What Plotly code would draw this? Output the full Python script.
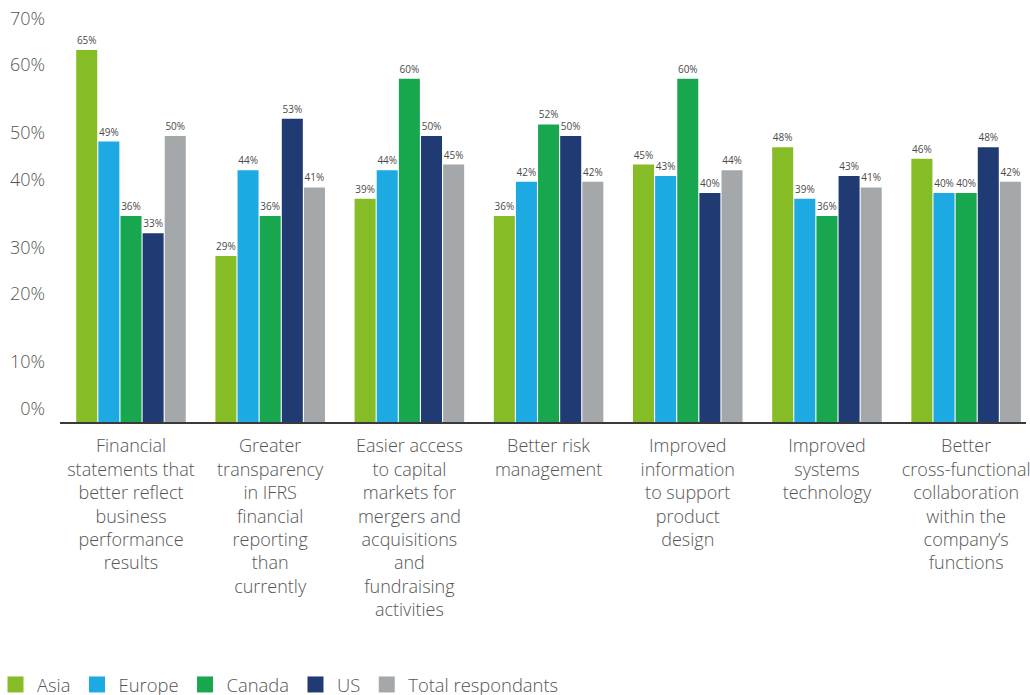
import plotly.graph_objects as go

categories = [
    "Financial<br>statements that<br>better reflect<br>business<br>performance<br>results",
    "Greater<br>transparency<br>in IFRS<br>financial<br>reporting<br>than<br>currently",
    "Easier access<br>to capital<br>markets for<br>mergers and<br>acquisitions<br>and<br>fundraising<br>activities",
    "Better risk<br>management",
    "Improved<br>information<br>to support<br>product<br>design",
    "Improved<br>systems<br>technology",
    "Better<br>cross-functional<br>collaboration<br>within the<br>company’s<br>functions",
]

asia = [65, 29, 39, 36, 45, 48, 46]
europe = [49, 44, 44, 42, 43, 39, 40]
canada = [36, 36, 60, 52, 60, 36, 40]
us = [33, 53, 50, 50, 40, 43, 48]
total = [50, 41, 45, 42, 44, 41, 42]

series_names = ["Asia", "Europe", "Canada", "US", "Total respondants"]
series_values = [asia, europe, canada, us, total]
series_colors = ["#86BC25", "#1DA9E1", "#18A74F", "#203A74", "#A5A8AA"]

# y tick labels as they appear in the reference (irregularly placed)
ytick_labels = ["70%", "60%", "50%", "40%", "30%", "20%", "10%", "0%"]
ytick_pos = [70.4, 62.4, 50.5, 42.3, 30.4, 22.4, 10.5, 2.3]

FONT = "Open Sans"
TXT = "#555555"

fig = go.Figure()
for name, vals, col in zip(series_names, series_values, series_colors):
    fig.add_trace(go.Bar(
        x=categories, y=vals, name=name, marker_color=col,
        marker_line_width=0, showlegend=False,
        text=[f"{v}%" for v in vals], textposition="outside",
        textfont=dict(family=FONT, size=10, color="#4a4a4a", weight=400),
        constraintext="none", cliponaxis=False,
    ))
for name, col in zip(series_names, series_colors):
    fig.add_trace(go.Scatter(
        x=[None], y=[None], mode="markers", name=name,
        marker=dict(symbol="square", size=16, color=col),
    ))

fig.update_layout(
    width=1036, height=703,
    margin=dict(l=66, r=0, t=10, b=281),
    paper_bgcolor="white", plot_bgcolor="white",
    barmode="group", bargap=0.205, bargroupgap=0.05,
    font=dict(family=FONT, color=TXT, weight=300),
    showlegend=True,
    legend=dict(
        orientation="h", xref="container", yref="container",
        x=0, y=0, xanchor="left", yanchor="bottom",
        font=dict(family=FONT, size=18.4, color=TXT, weight=300),
        itemwidth=33, traceorder="normal",
    ),
    xaxis=dict(
        type="category", range=[-0.51, 6.43],
        showline=True, linecolor="#3a3a3a", linewidth=1.5,
        showgrid=False, zeroline=False, ticks="",
        tickfont=dict(family=FONT, size=18, color=TXT, weight=300),
        ticklabelstandoff=7,
    ),
    yaxis=dict(
        range=[0, 72], showgrid=False, zeroline=False, showline=False,
        tickmode="array", tickvals=ytick_pos, ticktext=ytick_labels,
        tickfont=dict(family=FONT, size=18, color=TXT, weight=300),
        ticks="", ticklabelstandoff=14,
    ),
)

fig.write_html(
    "out.html",
    config={"displayModeBar": False},
    post_script=(
        "document.body.style.margin='0 0 0 -6px';"
        "document.body.style.overflow='hidden';"
    ),
)
